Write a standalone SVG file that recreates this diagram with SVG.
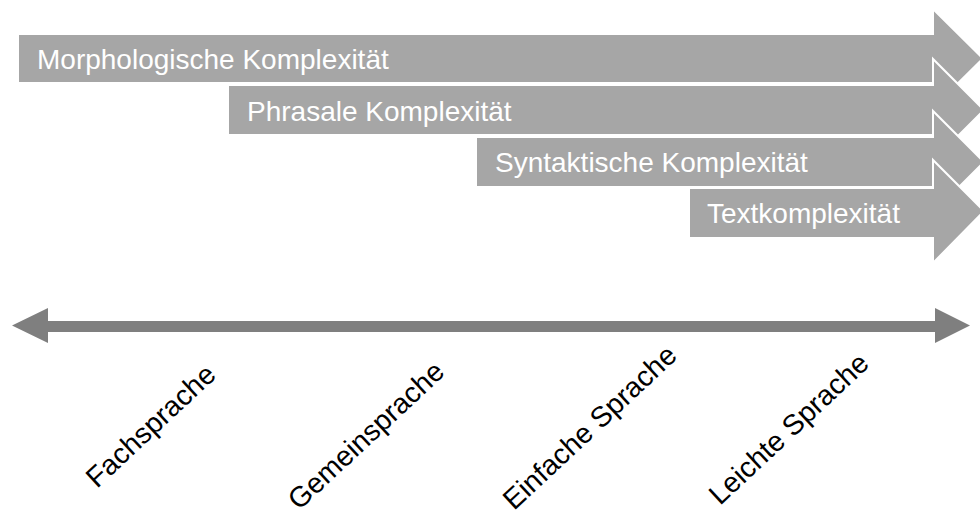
<svg xmlns="http://www.w3.org/2000/svg" width="980" height="517" viewBox="0 0 980 517">
<style>
.band{fill:#a6a6a6;stroke:#ffffff;stroke-width:2;stroke-linejoin:miter}
.bt{font-family:"Liberation Sans",Arial,sans-serif;font-size:28px;fill:#ffffff}
.lbl{font-family:"Liberation Sans",Arial,sans-serif;font-size:28.5px;fill:#000000}
.axis{fill:#7f7f7f}
</style>
<rect width="980" height="517" fill="#ffffff"/>
<g id="morphologisch">
<polygon class="band" points="18,34 933,34 933,9 983,58.5 933,108 933,83 18,83"/>
<text class="bt" x="37" y="69">Morphologische Komplexität</text>
</g>
<g id="phrasal">
<polygon class="band" points="228,85 933,85 933,59 984,110 933,161 933,135 228,135"/>
<text class="bt" x="247" y="121">Phrasale Komplexität</text>
</g>
<g id="syntaktisch">
<polygon class="band" points="476,137 933,137 933,111 984,162 933,213 933,187 476,187"/>
<text class="bt" x="495" y="172">Syntaktische Komplexität</text>
</g>
<g id="text">
<polygon class="band" points="689,188 933,188 933,160 984,211 933,263 933,238 689,238"/>
<text class="bt" x="707" y="223">Textkomplexität</text>
</g>
<g id="connectors">
<polygon class="axis" points="12,325.5 48,308 48,321 935,321 935,308 970,325.5 935,343 935,332 48,332 48,343"/>
</g>
<g id="fachsprache"><text class="lbl" transform="translate(97,489) rotate(-43)">Fachsprache</text></g>
<g id="gemeinsprache"><text class="lbl" transform="translate(299,511) rotate(-43)">Gemeinsprache</text></g>
<g id="einfache"><text class="lbl" transform="translate(514,511) rotate(-43)">Einfache Sprache</text></g>
<g id="leichte"><text class="lbl" transform="translate(720,506) rotate(-43)">Leichte Sprache</text></g>
</svg>
